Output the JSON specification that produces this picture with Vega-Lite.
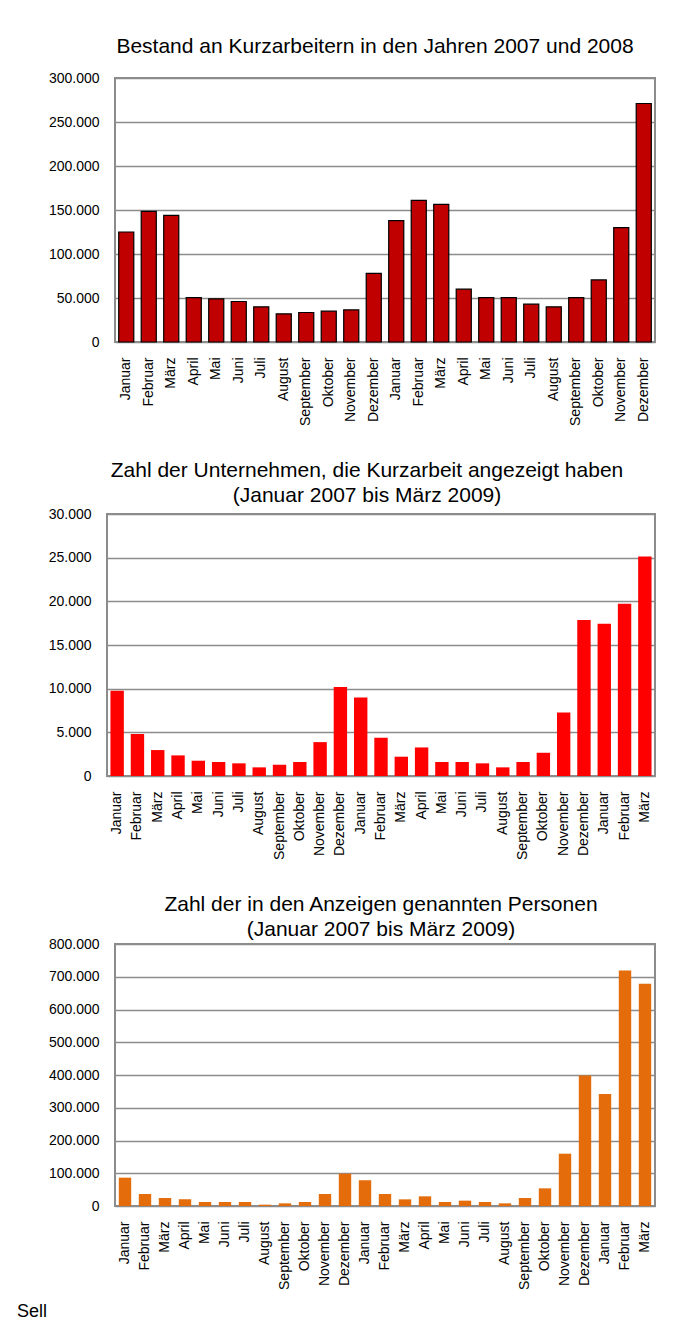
{
  "$schema": "https://vega.github.io/schema/vega-lite/v6.json",
  "background": "white",
  "padding": {"left": 17, "top": 35, "right": 5, "bottom": 5},
  "title": {"text": "Sell", "orient": "bottom", "anchor": "start", "fontSize": 18, "fontWeight": "normal", "font": "Liberation Sans", "color": "black", "baseline": "alphabetic", "offset": 27, "dx": -29},
  "datasets": {
    "spacer": [{"a": 1}],
    "kurz": [
      {"m": "2007-01", "v": 125000}, {"m": "2007-02", "v": 148500}, {"m": "2007-03", "v": 144000},
      {"m": "2007-04", "v": 50500}, {"m": "2007-05", "v": 49000}, {"m": "2007-06", "v": 46000},
      {"m": "2007-07", "v": 40000}, {"m": "2007-08", "v": 32000}, {"m": "2007-09", "v": 33500},
      {"m": "2007-10", "v": 35000}, {"m": "2007-11", "v": 36500}, {"m": "2007-12", "v": 78000},
      {"m": "2008-01", "v": 138000}, {"m": "2008-02", "v": 161000}, {"m": "2008-03", "v": 156500},
      {"m": "2008-04", "v": 60000}, {"m": "2008-05", "v": 50500}, {"m": "2008-06", "v": 50500},
      {"m": "2008-07", "v": 43000}, {"m": "2008-08", "v": 40000}, {"m": "2008-09", "v": 50500},
      {"m": "2008-10", "v": 70500}, {"m": "2008-11", "v": 130000}, {"m": "2008-12", "v": 271000}
    ],
    "unternehmen": [
      {"m": "2007-01", "v": 9750}, {"m": "2007-02", "v": 4800}, {"m": "2007-03", "v": 2970},
      {"m": "2007-04", "v": 2360}, {"m": "2007-05", "v": 1750}, {"m": "2007-06", "v": 1600},
      {"m": "2007-07", "v": 1450}, {"m": "2007-08", "v": 990}, {"m": "2007-09", "v": 1290},
      {"m": "2007-10", "v": 1600}, {"m": "2007-11", "v": 3880}, {"m": "2007-12", "v": 10200},
      {"m": "2008-01", "v": 8980}, {"m": "2008-02", "v": 4380}, {"m": "2008-03", "v": 2210},
      {"m": "2008-04", "v": 3270}, {"m": "2008-05", "v": 1600}, {"m": "2008-06", "v": 1600},
      {"m": "2008-07", "v": 1450}, {"m": "2008-08", "v": 990}, {"m": "2008-09", "v": 1600},
      {"m": "2008-10", "v": 2660}, {"m": "2008-11", "v": 7270}, {"m": "2008-12", "v": 17850},
      {"m": "2009-01", "v": 17430}, {"m": "2009-02", "v": 19720}, {"m": "2009-03", "v": 25120}
    ],
    "personen": [
      {"m": "2007-01", "v": 86500}, {"m": "2007-02", "v": 36600}, {"m": "2007-03", "v": 24400},
      {"m": "2007-04", "v": 20300}, {"m": "2007-05", "v": 12200}, {"m": "2007-06", "v": 12200},
      {"m": "2007-07", "v": 12200}, {"m": "2007-08", "v": 4000}, {"m": "2007-09", "v": 8100},
      {"m": "2007-10", "v": 12200}, {"m": "2007-11", "v": 36600}, {"m": "2007-12", "v": 98700},
      {"m": "2008-01", "v": 78300}, {"m": "2008-02", "v": 36600}, {"m": "2008-03", "v": 20300},
      {"m": "2008-04", "v": 29500}, {"m": "2008-05", "v": 12200}, {"m": "2008-06", "v": 16300},
      {"m": "2008-07", "v": 12200}, {"m": "2008-08", "v": 8100}, {"m": "2008-09", "v": 24400},
      {"m": "2008-10", "v": 53900}, {"m": "2008-11", "v": 159700}, {"m": "2008-12", "v": 398800},
      {"m": "2009-01", "v": 341800}, {"m": "2009-02", "v": 719200}, {"m": "2009-03", "v": 678500}
    ]
  },
  "vconcat": [
    {
      "spacing": 0,
      "hconcat": [
        {"width": 1, "height": 1, "view": {"stroke": null}, "data": {"name": "spacer"}, "mark": {"type": "text", "text": ""}, "encoding": {}},
        {
          "width": 540, "height": 264,
          "title": {"text": "Bestand an Kurzarbeitern in den Jahren 2007 und 2008", "offset": 14, "dx": -10},
          "data": {"name": "kurz"},
          "mark": {"type": "bar", "color": "#C00000", "stroke": "black", "strokeWidth": 1.2},
          "encoding": {
            "x": {"field": "m", "type": "ordinal", "scale": {"paddingInner": 0.33, "paddingOuter": 0.165}},
            "y": {"field": "v", "type": "quantitative", "scale": {"domain": [0, 300000], "nice": false},
                  "axis": {"values": [0, 50000, 100000, 150000, 200000, 250000, 300000]}}
          }
        }
      ]
    },
    {
      "spacing": 0,
      "hconcat": [
        {"width": 1, "height": 1, "view": {"stroke": null}, "data": {"name": "spacer"}, "mark": {"type": "text", "text": ""}, "encoding": {}},
        {
          "width": 548, "height": 262,
          "title": {"text": ["Zahl der Unternehmen, die Kurzarbeit angezeigt haben", "(Januar 2007 bis März 2009)"], "offset": 1, "dx": -14},
          "data": {"name": "unternehmen"},
          "mark": {"type": "bar", "color": "#FF0000"},
          "encoding": {
            "x": {"field": "m", "type": "ordinal", "scale": {"paddingInner": 0.34, "paddingOuter": 0.17}},
            "y": {"field": "v", "type": "quantitative", "scale": {"domain": [0, 30000], "nice": false},
                  "axis": {"values": [0, 5000, 10000, 15000, 20000, 25000, 30000]}}
          }
        }
      ]
    },
    {
      "spacing": 0,
      "hconcat": [
        {"width": 1, "height": 1, "view": {"stroke": null}, "data": {"name": "spacer"}, "mark": {"type": "text", "text": ""}, "encoding": {}},
        {
          "width": 540, "height": 262,
          "title": {"text": ["Zahl der in den Anzeigen genannten Personen", "(Januar 2007 bis März 2009)"], "offset": -3, "dx": -4},
          "data": {"name": "personen"},
          "mark": {"type": "bar", "color": "#E46C0A"},
          "encoding": {
            "x": {"field": "m", "type": "ordinal", "scale": {"paddingInner": 0.38, "paddingOuter": 0.19}},
            "y": {"field": "v", "type": "quantitative", "scale": {"domain": [0, 800000], "nice": false},
                  "axis": {"values": [0, 100000, 200000, 300000, 400000, 500000, 600000, 700000, 800000]}}
          }
        }
      ]
    }
  ],
  "spacing": 32,
  "config": {
    "font": "Liberation Sans",
    "view": {"stroke": "#8c8c8c", "strokeWidth": 2},
    "title": {"fontSize": 21, "fontWeight": "normal", "color": "black", "anchor": "middle", "baseline": "bottom", "lineHeight": 25, "font": "Liberation Sans"},
    "axisY": {"title": null, "format": ",d", "labelExpr": "replace(datum.label, ',', '.')", "domain": false, "ticks": false, "labelPadding": 16, "labelFontSize": 14, "labelColor": "black", "grid": true, "gridColor": "#8c8c8c", "gridWidth": 1.5},
    "axisX": {"title": null, "domain": false, "grid": false, "labelAngle": -90, "labelFontSize": 14, "labelColor": "black", "labelPadding": 15, "ticks": false,
      "labelExpr": "['Januar','Februar','März','April','Mai','Juni','Juli','August','September','Oktober','November','Dezember'][toNumber(slice(datum.value,5,7))-1]"}
  }
}
